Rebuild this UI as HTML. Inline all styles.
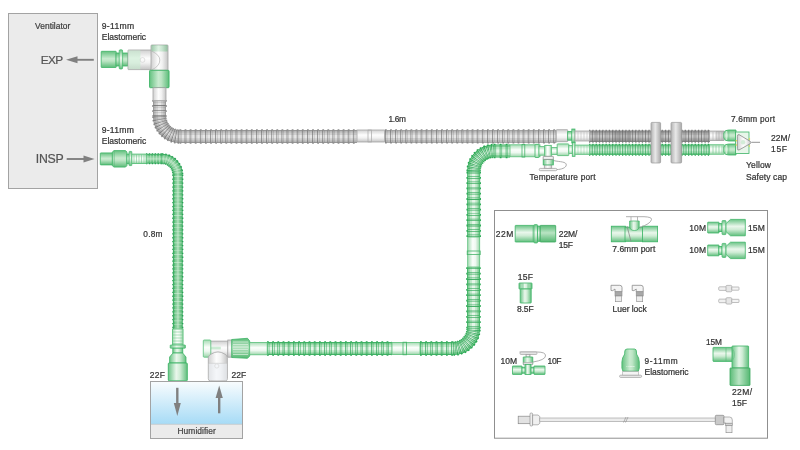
<!DOCTYPE html><html><head><meta charset="utf-8"><style>html,body{margin:0;padding:0;background:#fff;width:800px;height:450px;overflow:hidden}svg{display:block;will-change:transform}text{-webkit-font-smoothing:antialiased}</style></head><body>
<svg width="800" height="450" viewBox="0 0 800 450" font-family='"Liberation Sans", sans-serif'>
<defs>
<linearGradient id="gh_m" x1="0" y1="0" x2="0" y2="1"><stop offset="0" stop-color="#66c281"/><stop offset="0.45" stop-color="#c9ebd0"/><stop offset="0.6" stop-color="#bde5c5"/><stop offset="1" stop-color="#5cbc79"/></linearGradient>
<linearGradient id="gv_m" x1="0" y1="0" x2="1" y2="0"><stop offset="0" stop-color="#66c281"/><stop offset="0.45" stop-color="#c9ebd0"/><stop offset="0.6" stop-color="#bde5c5"/><stop offset="1" stop-color="#5cbc79"/></linearGradient>
<linearGradient id="gh_l" x1="0" y1="0" x2="0" y2="1"><stop offset="0" stop-color="#a6dcb4"/><stop offset="0.42" stop-color="#fbfefb"/><stop offset="0.65" stop-color="#eef8f0"/><stop offset="1" stop-color="#9bd6aa"/></linearGradient>
<linearGradient id="gv_l" x1="0" y1="0" x2="1" y2="0"><stop offset="0" stop-color="#a6dcb4"/><stop offset="0.42" stop-color="#fbfefb"/><stop offset="0.65" stop-color="#eef8f0"/><stop offset="1" stop-color="#9bd6aa"/></linearGradient>
<linearGradient id="gh_g" x1="0" y1="0" x2="0" y2="1"><stop offset="0" stop-color="#6cc487"/><stop offset="0.42" stop-color="#eaf7ec"/><stop offset="0.62" stop-color="#cfecd5"/><stop offset="1" stop-color="#62bf7e"/></linearGradient>
<linearGradient id="gv_g" x1="0" y1="0" x2="1" y2="0"><stop offset="0" stop-color="#6cc487"/><stop offset="0.42" stop-color="#eaf7ec"/><stop offset="0.62" stop-color="#cfecd5"/><stop offset="1" stop-color="#62bf7e"/></linearGradient>
<linearGradient id="gh_d" x1="0" y1="0" x2="0" y2="1"><stop offset="0" stop-color="#5dbd79"/><stop offset="0.45" stop-color="#b9e4c3"/><stop offset="1" stop-color="#55b872"/></linearGradient>
<linearGradient id="gv_d" x1="0" y1="0" x2="1" y2="0"><stop offset="0" stop-color="#5dbd79"/><stop offset="0.45" stop-color="#b9e4c3"/><stop offset="1" stop-color="#55b872"/></linearGradient>
<linearGradient id="gh_w" x1="0" y1="0" x2="0" y2="1"><stop offset="0" stop-color="#d0d0d0"/><stop offset="0.42" stop-color="#fdfdfd"/><stop offset="0.65" stop-color="#f2f2f2"/><stop offset="1" stop-color="#c4c4c4"/></linearGradient>
<linearGradient id="gv_w" x1="0" y1="0" x2="1" y2="0"><stop offset="0" stop-color="#d0d0d0"/><stop offset="0.42" stop-color="#fdfdfd"/><stop offset="0.65" stop-color="#f2f2f2"/><stop offset="1" stop-color="#c4c4c4"/></linearGradient>
<linearGradient id="gh_k" x1="0" y1="0" x2="0" y2="1"><stop offset="0" stop-color="#8c8c8c"/><stop offset="0.45" stop-color="#e2e2e2"/><stop offset="1" stop-color="#8c8c8c"/></linearGradient>
<linearGradient id="gv_k" x1="0" y1="0" x2="1" y2="0"><stop offset="0" stop-color="#8c8c8c"/><stop offset="0.45" stop-color="#e2e2e2"/><stop offset="1" stop-color="#8c8c8c"/></linearGradient>
<linearGradient id="hum" x1="0" y1="0" x2="0" y2="1"><stop offset="0" stop-color="#f8fcfe"/><stop offset="1" stop-color="#a6dbf6"/></linearGradient>
<linearGradient id="disc" x1="0" y1="0" x2="1" y2="0"><stop offset="0" stop-color="#b4b4b4"/><stop offset="0.45" stop-color="#e8e8e8"/><stop offset="1" stop-color="#aaaaaa"/></linearGradient>
</defs>
<rect x="8.5" y="13.5" width="89" height="175" rx="0" fill="#ebebeb" stroke="#a3a3a3" stroke-width="1" />
<text x="35.1" y="28.7" font-size="8.4" fill="#3d3d3d" stroke="#3d3d3d" stroke-width="0.22" textLength="35.2" lengthAdjust="spacing">Ventilator</text>
<text x="40.8" y="63.9" font-size="11.8" fill="#555" stroke="#555" stroke-width="0.22" textLength="22.4" lengthAdjust="spacing">EXP</text>
<path d="M93.8 59.8 H74" fill="none" stroke="#808080" stroke-width="1.9" />
<path d="M66 59.8 L77.5 56.3 L77.5 63.3 Z" fill="#808080" stroke="none" stroke-width="0.8" />
<text x="35.7" y="162.7" font-size="12.3" fill="#555" stroke="#555" stroke-width="0.22" textLength="28" lengthAdjust="spacing">INSP</text>
<path d="M66.7 159 H85" fill="none" stroke="#808080" stroke-width="1.9" />
<path d="M94.5 159 L83.5 155.4 L83.5 162.6 Z" fill="#808080" stroke="none" stroke-width="0.8" />
<text x="101.8" y="28.7" font-size="8.6" fill="#333" stroke="#333" stroke-width="0.22" textLength="32.3" lengthAdjust="spacing">9-11mm</text>
<text x="101.8" y="39.5" font-size="8.5" fill="#333" stroke="#333" stroke-width="0.22" textLength="44.3" lengthAdjust="spacing">Elastomeric</text>
<text x="101.7" y="132.7" font-size="8.6" fill="#333" stroke="#333" stroke-width="0.22" textLength="32.1" lengthAdjust="spacing">9-11mm</text>
<text x="101.7" y="144" font-size="8.5" fill="#333" stroke="#333" stroke-width="0.22" textLength="44.5" lengthAdjust="spacing">Elastomeric</text>
<path d="M159.5 100 V116.5" fill="none" stroke="#8c8c8c" stroke-width="14.5" stroke-dasharray="1.7999999999999998 3.3" stroke-dashoffset="0"/>
<path d="M159.5 100 V116.5" fill="none" stroke="#8c8c8c" stroke-width="13"/>
<path d="M159.5 100 V116.5" fill="none" stroke="#b9b9b9" stroke-width="11.7"/>
<path d="M159.5 100 V116.5" fill="none" stroke="#d0d0d0" stroke-width="7.8"/>
<path d="M159.5 100 V116.5" fill="none" stroke="#e6e6e6" stroke-width="3.25"/>
<path d="M159.5 100 V116.5" fill="none" stroke="#606060" stroke-opacity="0.7" stroke-width="12.2" stroke-dasharray="0.8 4.3" stroke-dashoffset="0"/>
<path d="M159.5 100 V116.5" fill="none" stroke="#606060" stroke-opacity="0.3" stroke-width="11.4" stroke-dasharray="0.7 4.3999999999999995" stroke-dashoffset="-1.7"/>
<path d="M179.5 136.5 H357" fill="none" stroke="#8c8c8c" stroke-width="14.5" stroke-dasharray="1.7999999999999998 3.3" stroke-dashoffset="0"/>
<path d="M179.5 136.5 H357" fill="none" stroke="#8c8c8c" stroke-width="13"/>
<path d="M179.5 136.5 H357" fill="none" stroke="#b9b9b9" stroke-width="11.7"/>
<path d="M179.5 136.5 H357" fill="none" stroke="#d0d0d0" stroke-width="7.8"/>
<path d="M179.5 136.5 H357" fill="none" stroke="#e6e6e6" stroke-width="3.25"/>
<path d="M179.5 136.5 H357" fill="none" stroke="#606060" stroke-opacity="0.7" stroke-width="12.2" stroke-dasharray="0.8 4.3" stroke-dashoffset="0"/>
<path d="M179.5 136.5 H357" fill="none" stroke="#606060" stroke-opacity="0.3" stroke-width="11.4" stroke-dasharray="0.7 4.3999999999999995" stroke-dashoffset="-1.7"/>
<path d="M159.5 116.5 A20 20 0 0 0 179.5 136.5" fill="none" stroke="#8c8c8c" stroke-width="14.5" stroke-dasharray="1.125 1.5750000000000002" stroke-dashoffset="0"/>
<path d="M159.5 116.5 A20 20 0 0 0 179.5 136.5" fill="none" stroke="#8c8c8c" stroke-width="13"/>
<path d="M159.5 116.5 A20 20 0 0 0 179.5 136.5" fill="none" stroke="#b9b9b9" stroke-width="11.7"/>
<path d="M159.5 116.5 A20 20 0 0 0 179.5 136.5" fill="none" stroke="#d0d0d0" stroke-width="7.8"/>
<path d="M159.5 116.5 A20 20 0 0 0 179.5 136.5" fill="none" stroke="#e6e6e6" stroke-width="3.25"/>
<path d="M159.5 116.5 A20 20 0 0 0 179.5 136.5" fill="none" stroke="#606060" stroke-opacity="0.7" stroke-width="12.2" stroke-dasharray="0.8 1.9000000000000001" stroke-dashoffset="0"/>
<path d="M159.5 116.5 A20 20 0 0 0 179.5 136.5" fill="none" stroke="#606060" stroke-opacity="0.3" stroke-width="11.4" stroke-dasharray="0.7 2.0" stroke-dashoffset="-1.7"/>
<path d="M385 136.3 H556.5" fill="none" stroke="#8c8c8c" stroke-width="14.3" stroke-dasharray="1.7999999999999998 3.3" stroke-dashoffset="0"/>
<path d="M385 136.3 H556.5" fill="none" stroke="#8c8c8c" stroke-width="12.8"/>
<path d="M385 136.3 H556.5" fill="none" stroke="#b9b9b9" stroke-width="11.5"/>
<path d="M385 136.3 H556.5" fill="none" stroke="#d0d0d0" stroke-width="7.68"/>
<path d="M385 136.3 H556.5" fill="none" stroke="#e6e6e6" stroke-width="3.2"/>
<path d="M385 136.3 H556.5" fill="none" stroke="#606060" stroke-opacity="0.7" stroke-width="12.0" stroke-dasharray="0.8 4.3" stroke-dashoffset="0"/>
<path d="M385 136.3 H556.5" fill="none" stroke="#606060" stroke-opacity="0.3" stroke-width="11.200000000000001" stroke-dasharray="0.7 4.3999999999999995" stroke-dashoffset="-1.7"/>
<rect x="357" y="130.0" width="27.5" height="12" rx="0" fill="url(#gh_w)" stroke="#a3a3a3" stroke-width="0.8"/>
<rect x="368" y="130" width="3.6" height="12" rx="0" fill="none" stroke="#a8a8a8" stroke-width="0.7" />
<path d="M589 136.2 H710" fill="none" stroke="#7a7a7a" stroke-width="12.9" stroke-dasharray="1.275 2.025" stroke-dashoffset="0"/>
<path d="M589 136.2 H710" fill="none" stroke="#7a7a7a" stroke-width="11.4"/>
<path d="M589 136.2 H710" fill="none" stroke="#a2a2a2" stroke-width="10.1"/>
<path d="M589 136.2 H710" fill="none" stroke="#b9b9b9" stroke-width="6.84"/>
<path d="M589 136.2 H710" fill="none" stroke="#d2d2d2" stroke-width="2.85"/>
<path d="M589 136.2 H710" fill="none" stroke="#555" stroke-opacity="0.7" stroke-width="10.6" stroke-dasharray="0.8 2.5" stroke-dashoffset="0"/>
<path d="M589 136.2 H710" fill="none" stroke="#555" stroke-opacity="0.3" stroke-width="9.8" stroke-dasharray="0.7 2.5999999999999996" stroke-dashoffset="-1.7"/>
<rect x="613" y="131" width="18" height="10.4" rx="0" fill="#707070" stroke="none" stroke-width="0" opacity="0.22"/>
<rect x="101.2" y="51.3" width="15.0" height="16.2" rx="0.5" fill="url(#gh_m)" stroke="#3db466" stroke-width="0.8"/>
<rect x="116" y="53.0" width="12" height="13" rx="0.3" fill="url(#gh_m)" stroke="#3db466" stroke-width="0.8"/>
<rect x="119.2" y="49.8" width="3.4" height="19.2" rx="1" fill="url(#gh_g)" stroke="#3db466" stroke-width="0.7" />
<rect x="128" y="50.0" width="23.5" height="19.6" rx="0.5" fill="url(#gh_w)" stroke="#a3a3a3" stroke-width="0.8"/>
<rect x="128.4" y="50.4" width="12" height="18.8" rx="0" fill="#c6ebcf" stroke="none" stroke-width="0" opacity="0.6"/>
<circle cx="142.5" cy="60" r="2.4" fill="none" stroke="#cfcfcf" stroke-width="0.6"/>
<rect x="151.0" y="45" width="17" height="25.299999999999997" rx="0.8" fill="url(#gv_w)" stroke="#a3a3a3" stroke-width="0.8"/>
<rect x="151.5" y="45" width="16" height="6.5" rx="0" fill="url(#gv_d)" stroke="none" stroke-width="0" opacity="0.45"/>
<path d="M151.5 51 Q160 55 159.8 60 Q160 66 151.5 70" fill="none" stroke="#b5b5b5" stroke-width="0.7" />
<rect x="149.55" y="70.3" width="19.5" height="17.400000000000006" rx="0.8" fill="url(#gv_m)" stroke="#3db466" stroke-width="0.9"/>
<rect x="153.0" y="87.7" width="13" height="13.0" rx="0" fill="url(#gv_w)" stroke="#a3a3a3" stroke-width="0.8"/>
<path d="M146 158.7 H161.8" fill="none" stroke="#2ba456" stroke-width="11.100000000000001" stroke-dasharray="1.3 1.5999999999999999"/>
<path d="M146 158.7 H161.8" fill="none" stroke="#2ba456" stroke-width="9.8"/>
<path d="M146 158.7 H161.8" fill="none" stroke="#5cbd7a" stroke-width="8.4"/>
<path d="M146 158.7 H161.8" fill="none" stroke="#84cd98" stroke-width="5.390000000000001"/>
<path d="M146 158.7 H161.8" fill="none" stroke="#a9dcb6" stroke-width="2.156"/>
<path d="M146 158.7 H161.8" fill="none" stroke="#d6efdb" stroke-opacity="0.75" stroke-width="7.800000000000001" stroke-dasharray="0.6 2.3" stroke-dashoffset="-1.6"/>
<path d="M177.8 174.7 V329" fill="none" stroke="#2ba456" stroke-width="11.100000000000001" stroke-dasharray="1.3 2.5999999999999996"/>
<path d="M177.8 174.7 V329" fill="none" stroke="#2ba456" stroke-width="9.8"/>
<path d="M177.8 174.7 V329" fill="none" stroke="#5cbd7a" stroke-width="8.4"/>
<path d="M177.8 174.7 V329" fill="none" stroke="#84cd98" stroke-width="5.390000000000001"/>
<path d="M177.8 174.7 V329" fill="none" stroke="#a9dcb6" stroke-width="2.156"/>
<path d="M177.8 174.7 V329" fill="none" stroke="#d6efdb" stroke-opacity="0.75" stroke-width="7.800000000000001" stroke-dasharray="0.6 3.3" stroke-dashoffset="-1.6"/>
<path d="M161.8 158.7 A16 16 0 0 1 177.8 174.7" fill="none" stroke="#2ba456" stroke-width="11.100000000000001" stroke-dasharray="1.3 1.3"/>
<path d="M161.8 158.7 A16 16 0 0 1 177.8 174.7" fill="none" stroke="#2ba456" stroke-width="9.8"/>
<path d="M161.8 158.7 A16 16 0 0 1 177.8 174.7" fill="none" stroke="#5cbd7a" stroke-width="8.4"/>
<path d="M161.8 158.7 A16 16 0 0 1 177.8 174.7" fill="none" stroke="#84cd98" stroke-width="5.390000000000001"/>
<path d="M161.8 158.7 A16 16 0 0 1 177.8 174.7" fill="none" stroke="#a9dcb6" stroke-width="2.156"/>
<path d="M161.8 158.7 A16 16 0 0 1 177.8 174.7" fill="none" stroke="#d6efdb" stroke-opacity="0.75" stroke-width="7.800000000000001" stroke-dasharray="0.6 2.0" stroke-dashoffset="-1.6"/>
<rect x="100.3" y="152.9" width="12.299999999999997" height="12" rx="0.5" fill="url(#gh_m)" stroke="#3db466" stroke-width="0.8"/>
<path d="M112.3 152 L114 150.6 H125.5 L126.9 152 V165.7 L125.5 167.1 H114 L112.3 165.7 Z" fill="url(#gh_m)" stroke="#3db466" stroke-width="0.8" />
<line x1="114.2" y1="151" x2="114.2" y2="166.8" stroke="#56bb77" stroke-width="0.6"/>
<rect x="126.9" y="154.0" width="2.4000000000000057" height="9.8" rx="0" fill="url(#gh_g)" stroke="#3db466" stroke-width="0.8"/>
<rect x="129.1" y="151.4" width="2.7" height="14.2" rx="0.5" fill="url(#gh_g)" stroke="#3db466" stroke-width="0.7" />
<rect x="131.8" y="154.10000000000002" width="14.399999999999977" height="9.4" rx="0" fill="url(#gh_l)" stroke="#5cc07c" stroke-width="0.9"/>
<line x1="134" y1="154.6" x2="134" y2="163" stroke="#5ec07f" stroke-width="0.7" opacity="0.7"/>
<line x1="136.5" y1="154.6" x2="136.5" y2="163" stroke="#5ec07f" stroke-width="0.7" opacity="0.7"/>
<line x1="139" y1="154.6" x2="139" y2="163" stroke="#5ec07f" stroke-width="0.7" opacity="0.7"/>
<line x1="141.5" y1="154.6" x2="141.5" y2="163" stroke="#5ec07f" stroke-width="0.7" opacity="0.7"/>
<line x1="144" y1="154.6" x2="144" y2="163" stroke="#5ec07f" stroke-width="0.7" opacity="0.7"/>
<rect x="172.55" y="329" width="10.5" height="16" rx="0" fill="url(#gv_l)" stroke="#5cc07c" stroke-width="0.9"/>
<line x1="173" y1="332" x2="182.6" y2="332" stroke="#5ec07f" stroke-width="0.7" opacity="0.7"/>
<line x1="173" y1="335" x2="182.6" y2="335" stroke="#5ec07f" stroke-width="0.7" opacity="0.7"/>
<line x1="173" y1="338" x2="182.6" y2="338" stroke="#5ec07f" stroke-width="0.7" opacity="0.7"/>
<line x1="173" y1="341" x2="182.6" y2="341" stroke="#5ec07f" stroke-width="0.7" opacity="0.7"/>
<line x1="173" y1="343.5" x2="182.6" y2="343.5" stroke="#5ec07f" stroke-width="0.7" opacity="0.7"/>
<rect x="170.2" y="345" width="15.2" height="3.2" rx="0.5" fill="url(#gv_g)" stroke="#3db466" stroke-width="0.7" />
<rect x="172.8" y="348.2" width="10" height="4.800000000000011" rx="0" fill="url(#gv_g)" stroke="#3db466" stroke-width="0.8"/>
<path d="M173 353 H182.6 L186 357 V363 H169.6 V357 Z" fill="url(#gv_g)" stroke="#3db466" stroke-width="0.8" />
<rect x="168.3" y="363" width="19" height="17.80000000000001" rx="0.8" fill="url(#gv_g)" stroke="#3db466" stroke-width="0.9"/>
<path d="M267 348.5 H392" fill="none" stroke="#2aa954" stroke-width="14.5" stroke-dasharray="1.7999999999999998 3.4000000000000004" stroke-dashoffset="0"/>
<path d="M267 348.5 H392" fill="none" stroke="#2aa954" stroke-width="13"/>
<path d="M267 348.5 H392" fill="none" stroke="#86d09a" stroke-width="11.7"/>
<path d="M267 348.5 H392" fill="none" stroke="#bfe7c8" stroke-width="7.8"/>
<path d="M267 348.5 H392" fill="none" stroke="#e6f5e9" stroke-width="3.25"/>
<path d="M267 348.5 H392" fill="none" stroke="#2aa454" stroke-opacity="0.85" stroke-width="12.2" stroke-dasharray="0.8 4.4" stroke-dashoffset="0"/>
<path d="M267 348.5 H392" fill="none" stroke="#2aa454" stroke-opacity="0.75" stroke-width="11.4" stroke-dasharray="0.7 4.5" stroke-dashoffset="-1.7"/>
<rect x="392" y="342.5" width="28" height="12" rx="0" fill="url(#gh_l)" stroke="#5cc07c" stroke-width="0.8"/>
<rect x="403" y="342.2" width="3.6" height="12.6" rx="0" fill="none" stroke="#46b46a" stroke-width="0.8" />
<path d="M420 348.5 H453.5" fill="none" stroke="#2aa954" stroke-width="14.5" stroke-dasharray="1.7999999999999998 3.4000000000000004" stroke-dashoffset="0"/>
<path d="M420 348.5 H453.5" fill="none" stroke="#2aa954" stroke-width="13"/>
<path d="M420 348.5 H453.5" fill="none" stroke="#86d09a" stroke-width="11.7"/>
<path d="M420 348.5 H453.5" fill="none" stroke="#bfe7c8" stroke-width="7.8"/>
<path d="M420 348.5 H453.5" fill="none" stroke="#e6f5e9" stroke-width="3.25"/>
<path d="M420 348.5 H453.5" fill="none" stroke="#2aa454" stroke-opacity="0.85" stroke-width="12.2" stroke-dasharray="0.8 4.4" stroke-dashoffset="0"/>
<path d="M420 348.5 H453.5" fill="none" stroke="#2aa454" stroke-opacity="0.75" stroke-width="11.4" stroke-dasharray="0.7 4.5" stroke-dashoffset="-1.7"/>
<path d="M473.5 328.5 V267" fill="none" stroke="#2aa954" stroke-width="14.5" stroke-dasharray="1.7999999999999998 3.6000000000000005" stroke-dashoffset="0"/>
<path d="M473.5 328.5 V267" fill="none" stroke="#2aa954" stroke-width="13"/>
<path d="M473.5 328.5 V267" fill="none" stroke="#86d09a" stroke-width="11.7"/>
<path d="M473.5 328.5 V267" fill="none" stroke="#bfe7c8" stroke-width="7.8"/>
<path d="M473.5 328.5 V267" fill="none" stroke="#e6f5e9" stroke-width="3.25"/>
<path d="M473.5 328.5 V267" fill="none" stroke="#2aa454" stroke-opacity="0.85" stroke-width="12.2" stroke-dasharray="0.8 4.6000000000000005" stroke-dashoffset="0"/>
<path d="M473.5 328.5 V267" fill="none" stroke="#2aa454" stroke-opacity="0.75" stroke-width="11.4" stroke-dasharray="0.7 4.7" stroke-dashoffset="-1.7"/>
<path d="M453.5 348.5 A20 20 0 0 0 473.5 328.5" fill="none" stroke="#2aa954" stroke-width="14.5" stroke-dasharray="1.2000000000000002 1.6999999999999997" stroke-dashoffset="0"/>
<path d="M453.5 348.5 A20 20 0 0 0 473.5 328.5" fill="none" stroke="#2aa954" stroke-width="13"/>
<path d="M453.5 348.5 A20 20 0 0 0 473.5 328.5" fill="none" stroke="#86d09a" stroke-width="11.7"/>
<path d="M453.5 348.5 A20 20 0 0 0 473.5 328.5" fill="none" stroke="#bfe7c8" stroke-width="7.8"/>
<path d="M453.5 348.5 A20 20 0 0 0 473.5 328.5" fill="none" stroke="#e6f5e9" stroke-width="3.25"/>
<path d="M453.5 348.5 A20 20 0 0 0 473.5 328.5" fill="none" stroke="#2aa454" stroke-opacity="0.85" stroke-width="12.2" stroke-dasharray="0.8 2.0999999999999996" stroke-dashoffset="0"/>
<path d="M453.5 348.5 A20 20 0 0 0 473.5 328.5" fill="none" stroke="#2aa454" stroke-opacity="0.75" stroke-width="11.4" stroke-dasharray="0.7 2.2" stroke-dashoffset="-1.7"/>
<rect x="467.7" y="237" width="12" height="30" rx="0" fill="url(#gv_l)" stroke="#5cc07c" stroke-width="0.8"/>
<rect x="467.2" y="251" width="13" height="3.6" rx="0" fill="none" stroke="#46b46a" stroke-width="0.8" />
<path d="M473.7 237 V171" fill="none" stroke="#2aa954" stroke-width="14.5" stroke-dasharray="1.7999999999999998 3.5" stroke-dashoffset="0"/>
<path d="M473.7 237 V171" fill="none" stroke="#2aa954" stroke-width="13"/>
<path d="M473.7 237 V171" fill="none" stroke="#86d09a" stroke-width="11.7"/>
<path d="M473.7 237 V171" fill="none" stroke="#bfe7c8" stroke-width="7.8"/>
<path d="M473.7 237 V171" fill="none" stroke="#e6f5e9" stroke-width="3.25"/>
<path d="M473.7 237 V171" fill="none" stroke="#2aa454" stroke-opacity="0.85" stroke-width="12.2" stroke-dasharray="0.8 4.5" stroke-dashoffset="0"/>
<path d="M473.7 237 V171" fill="none" stroke="#2aa454" stroke-opacity="0.75" stroke-width="11.4" stroke-dasharray="0.7 4.6" stroke-dashoffset="-1.7"/>
<path d="M493.7 151 H510" fill="none" stroke="#2aa954" stroke-width="14.5" stroke-dasharray="1.7999999999999998 4.2" stroke-dashoffset="0"/>
<path d="M493.7 151 H510" fill="none" stroke="#2aa954" stroke-width="13"/>
<path d="M493.7 151 H510" fill="none" stroke="#86d09a" stroke-width="11.7"/>
<path d="M493.7 151 H510" fill="none" stroke="#bfe7c8" stroke-width="7.8"/>
<path d="M493.7 151 H510" fill="none" stroke="#e6f5e9" stroke-width="3.25"/>
<path d="M493.7 151 H510" fill="none" stroke="#2aa454" stroke-opacity="0.85" stroke-width="12.2" stroke-dasharray="0.8 5.2" stroke-dashoffset="0"/>
<path d="M493.7 151 H510" fill="none" stroke="#2aa454" stroke-opacity="0.75" stroke-width="11.4" stroke-dasharray="0.7 5.3" stroke-dashoffset="-1.7"/>
<path d="M473.7 171 A20 20 0 0 1 493.7 151" fill="none" stroke="#2aa954" stroke-width="14.5" stroke-dasharray="1.2000000000000002 1.6999999999999997" stroke-dashoffset="0"/>
<path d="M473.7 171 A20 20 0 0 1 493.7 151" fill="none" stroke="#2aa954" stroke-width="13"/>
<path d="M473.7 171 A20 20 0 0 1 493.7 151" fill="none" stroke="#86d09a" stroke-width="11.7"/>
<path d="M473.7 171 A20 20 0 0 1 493.7 151" fill="none" stroke="#bfe7c8" stroke-width="7.8"/>
<path d="M473.7 171 A20 20 0 0 1 493.7 151" fill="none" stroke="#e6f5e9" stroke-width="3.25"/>
<path d="M473.7 171 A20 20 0 0 1 493.7 151" fill="none" stroke="#2aa454" stroke-opacity="0.85" stroke-width="12.2" stroke-dasharray="0.8 2.0999999999999996" stroke-dashoffset="0"/>
<path d="M473.7 171 A20 20 0 0 1 493.7 151" fill="none" stroke="#2aa454" stroke-opacity="0.75" stroke-width="11.4" stroke-dasharray="0.7 2.2" stroke-dashoffset="-1.7"/>
<rect x="510" y="144.8" width="30" height="12" rx="0" fill="url(#gh_l)" stroke="#5cc07c" stroke-width="0.8"/>
<rect x="522" y="144.5" width="2.8" height="12.6" rx="0" fill="none" stroke="#46b46a" stroke-width="0.8" />
<path d="M589 149.8 H710" fill="none" stroke="#2aa954" stroke-width="12.1" stroke-dasharray="1.275 2.025" stroke-dashoffset="0"/>
<path d="M589 149.8 H710" fill="none" stroke="#2aa954" stroke-width="10.6"/>
<path d="M589 149.8 H710" fill="none" stroke="#86d09a" stroke-width="9.299999999999999"/>
<path d="M589 149.8 H710" fill="none" stroke="#bfe7c8" stroke-width="6.359999999999999"/>
<path d="M589 149.8 H710" fill="none" stroke="#e6f5e9" stroke-width="2.65"/>
<path d="M589 149.8 H710" fill="none" stroke="#2aa454" stroke-opacity="0.85" stroke-width="9.799999999999999" stroke-dasharray="0.8 2.5" stroke-dashoffset="0"/>
<path d="M589 149.8 H710" fill="none" stroke="#2aa454" stroke-opacity="0.75" stroke-width="9.0" stroke-dasharray="0.7 2.5999999999999996" stroke-dashoffset="-1.7"/>
<rect x="210.4" y="341.09999999999997" width="17.599999999999994" height="15.6" rx="0" fill="url(#gh_w)" stroke="#a3a3a3" stroke-width="0.8"/>
<rect x="210.8" y="346.7" width="10" height="2.7" rx="0" fill="#bfe6c9" stroke="none" stroke-width="0" opacity="0.8"/>
<rect x="203.3" y="340.0" width="7.5" height="17.2" rx="0.8" fill="url(#gh_l)" stroke="#5cc07c" stroke-width="0.8"/>
<rect x="227.8" y="340.0" width="4.399999999999977" height="17.2" rx="0" fill="url(#gh_w)" stroke="#a3a3a3" stroke-width="0.8"/>
<path d="M208.3 378.6 V357.5 Q208.3 355.6 211 354.2 Q218 349.6 225 354.2 Q227.4 355.6 227.4 357.5 V378.6 Q227.4 380.8 225.4 380.8 H210.3 Q208.3 380.8 208.3 378.6 Z" fill="url(#gv_w)" stroke="#a8a8a8" stroke-width="0.8" />
<rect x="208.8" y="363.3" width="18.2" height="17" rx="1" fill="#eef2f6" stroke="none" stroke-width="0" opacity="0.6"/>
<line x1="208.6" y1="363.3" x2="227.1" y2="363.3" stroke="#c8c8c8" stroke-width="0.6"/>
<circle cx="216.8" cy="366" r="2.1" fill="none" stroke="#d8d8d8" stroke-width="0.7"/>
<path d="M231.7 339.5 L247.5 338.3 L249.7 341 V356 L247.5 358.3 L231.7 357.5 Z" fill="url(#gh_d)" stroke="#3db466" stroke-width="0.8" />
<line x1="233" y1="342" x2="248" y2="342" stroke="#e6f5e9" stroke-width="0.8" opacity="0.8"/>
<line x1="233" y1="344.5" x2="248" y2="344.5" stroke="#e6f5e9" stroke-width="0.8" opacity="0.8"/>
<line x1="233" y1="347" x2="248" y2="347" stroke="#e6f5e9" stroke-width="0.8" opacity="0.8"/>
<line x1="233" y1="349.5" x2="248" y2="349.5" stroke="#e6f5e9" stroke-width="0.8" opacity="0.8"/>
<line x1="233" y1="352" x2="248" y2="352" stroke="#e6f5e9" stroke-width="0.8" opacity="0.8"/>
<line x1="233" y1="354.5" x2="248" y2="354.5" stroke="#e6f5e9" stroke-width="0.8" opacity="0.8"/>
<rect x="249.7" y="342.40000000000003" width="17.5" height="12.4" rx="0" fill="url(#gh_l)" stroke="#5cc07c" stroke-width="0.8"/>
<rect x="556.3" y="129.7" width="11.400000000000091" height="12" rx="0.5" fill="url(#gh_w)" stroke="#a3a3a3" stroke-width="0.8"/>
<rect x="567.7" y="131.6" width="4.2999999999999545" height="8.6" rx="0" fill="url(#gh_g)" stroke="#3db466" stroke-width="0.8"/>
<rect x="571.8" y="129" width="3.2" height="14" rx="0" fill="url(#gh_g)" stroke="#3db466" stroke-width="0.7" />
<rect x="575" y="131.0" width="14.700000000000045" height="10" rx="0" fill="url(#gh_w)" stroke="#a3a3a3" stroke-width="0.8"/>
<line x1="578" y1="131.5" x2="578" y2="140.5" stroke="#bdbdbd" stroke-width="0.6"/>
<line x1="581" y1="131.5" x2="581" y2="140.5" stroke="#bdbdbd" stroke-width="0.6"/>
<line x1="584" y1="131.5" x2="584" y2="140.5" stroke="#bdbdbd" stroke-width="0.6"/>
<line x1="587" y1="131.5" x2="587" y2="140.5" stroke="#bdbdbd" stroke-width="0.6"/>
<rect x="535" y="144.3" width="4" height="13.2" rx="0.5" fill="url(#gh_l)" stroke="#3db466" stroke-width="0.8" />
<rect x="539" y="146.6" width="5.7000000000000455" height="8.6" rx="0" fill="url(#gh_l)" stroke="#5cc07c" stroke-width="0.8"/>
<rect x="551.3" y="147.4" width="5.900000000000091" height="7" rx="0" fill="url(#gh_l)" stroke="#5cc07c" stroke-width="0.8"/>
<rect x="557.2" y="143.9" width="11.599999999999909" height="11.7" rx="0.5" fill="url(#gh_l)" stroke="#5cc07c" stroke-width="0.9"/>
<rect x="568.8" y="145.5" width="3.5" height="8" rx="0" fill="url(#gh_l)" stroke="#5cc07c" stroke-width="0.8"/>
<rect x="572.3" y="142.3" width="2.7" height="14" rx="0" fill="url(#gh_l)" stroke="#3db466" stroke-width="0.8" />
<rect x="575" y="145.04999999999998" width="14.700000000000045" height="9.3" rx="0" fill="url(#gh_l)" stroke="#5cc07c" stroke-width="0.8"/>
<line x1="578" y1="145.5" x2="578" y2="154" stroke="#5ec07f" stroke-width="0.6" opacity="0.6"/>
<line x1="581" y1="145.5" x2="581" y2="154" stroke="#5ec07f" stroke-width="0.6" opacity="0.6"/>
<line x1="584" y1="145.5" x2="584" y2="154" stroke="#5ec07f" stroke-width="0.6" opacity="0.6"/>
<line x1="587" y1="145.5" x2="587" y2="154" stroke="#5ec07f" stroke-width="0.6" opacity="0.6"/>
<rect x="544.7" y="145.4" width="6.6" height="11.599999999999994" rx="0" fill="url(#gv_l)" stroke="#5cc07c" stroke-width="0.9"/>
<path d="M553.7 160.6 C 560 162, 566.5 161.5, 566.3 165 C 566 168, 561 169.5, 556.8 169.5" fill="none" stroke="#9a9a9a" stroke-width="0.8" />
<rect x="544.3" y="164.9" width="7.4" height="3.5" rx="0" fill="url(#gv_w)" stroke="#a3a3a3" stroke-width="0.8"/>
<rect x="543.2" y="159.4" width="10.1" height="5.5" rx="0" fill="url(#gv_g)" stroke="#3db466" stroke-width="0.8"/>
<rect x="543.2" y="156.3" width="10.1" height="3.1" rx="0.5" fill="#f2f2f2" stroke="#8a8a8a" stroke-width="0.8" />
<rect x="539.3" y="168.4" width="17.5" height="2.3" rx="1" fill="#f4f4f4" stroke="#9a9a9a" stroke-width="0.7" />
<text x="529.5" y="179.7" font-size="8.3" fill="#333" stroke="#333" stroke-width="0.22" textLength="66" lengthAdjust="spacing">Temperature port</text>
<rect x="651" y="122.4" width="9.6" height="40.6" rx="1" fill="url(#disc)" stroke="#999" stroke-width="0.7" />
<rect x="671" y="122.4" width="10.6" height="40.6" rx="1" fill="url(#disc)" stroke="#999" stroke-width="0.7" />
<rect x="709.5" y="131.05" width="14.5" height="9.5" rx="0" fill="url(#gh_w)" stroke="#a3a3a3" stroke-width="0.8"/>
<rect x="709.5" y="144.75" width="14.5" height="9.5" rx="0" fill="url(#gh_l)" stroke="#5cc07c" stroke-width="0.8"/>
<line x1="713" y1="131.8" x2="713" y2="140" stroke="#b0b0b0" stroke-width="0.6"/>
<line x1="713" y1="145.5" x2="713" y2="153.5" stroke="#6cc488" stroke-width="0.6"/>
<line x1="716" y1="131.8" x2="716" y2="140" stroke="#b0b0b0" stroke-width="0.6"/>
<line x1="716" y1="145.5" x2="716" y2="153.5" stroke="#6cc488" stroke-width="0.6"/>
<line x1="719" y1="131.8" x2="719" y2="140" stroke="#b0b0b0" stroke-width="0.6"/>
<line x1="719" y1="145.5" x2="719" y2="153.5" stroke="#6cc488" stroke-width="0.6"/>
<line x1="722" y1="131.8" x2="722" y2="140" stroke="#b0b0b0" stroke-width="0.6"/>
<line x1="722" y1="145.5" x2="722" y2="153.5" stroke="#6cc488" stroke-width="0.6"/>
<rect x="716" y="131" width="8" height="9.6" rx="0" fill="#8a8a8a" stroke="none" stroke-width="0" opacity="0.25"/>
<path d="M723.8 133 Q724.6 130 728.5 130 H736 V141 H728.5 Q724.6 141 723.8 138 Z" fill="url(#gh_m)" stroke="#3db466" stroke-width="0.8" />
<line x1="726.3" y1="131" x2="726.3" y2="140" stroke="#eaf7ec" stroke-width="1" opacity="0.8"/><line x1="728.8" y1="130.5" x2="728.8" y2="140.5" stroke="#4fb872" stroke-width="0.5"/>
<path d="M723.8 147 Q724.6 144 728.5 144 H736 V155 H728.5 Q724.6 155 723.8 152 Z" fill="url(#gh_m)" stroke="#3db466" stroke-width="0.8" />
<line x1="726.3" y1="145" x2="726.3" y2="154" stroke="#eaf7ec" stroke-width="1" opacity="0.8"/><line x1="728.8" y1="144.5" x2="728.8" y2="154.5" stroke="#4fb872" stroke-width="0.5"/>
<rect x="735.6" y="132" width="13.4" height="21.5" rx="0" fill="#e8f6ea" stroke="#3db466" stroke-width="0.8" />
<path d="M739 134.6 Q737.4 134.2 737.4 136.5 V148.3 Q737.4 150.6 739 150 L750.3 143.6 Q751.8 142.5 750.3 141.4 Z" fill="url(#gv_w)" stroke="#8a8a8a" stroke-width="0.8" />
<circle cx="743" cy="142.2" r="2.3" fill="#d3ecd8"/>
<path d="M751.5 142.3 H760" fill="none" stroke="#888" stroke-width="0.9" />
<circle cx="736.3" cy="140.8" r="0.8" fill="#e8d84a"/><circle cx="736.3" cy="145" r="0.8" fill="#e8d84a"/><circle cx="749.4" cy="139" r="0.8" fill="#e8d84a"/><circle cx="749.4" cy="146" r="0.8" fill="#e8d84a"/>
<text x="388.5" y="122" font-size="8.3" fill="#333" stroke="#333" stroke-width="0.22" textLength="17.5" lengthAdjust="spacing">1.6m</text>
<text x="143.3" y="237.3" font-size="8.3" fill="#333" stroke="#333" stroke-width="0.22" textLength="19.2" lengthAdjust="spacing">0.8m</text>
<text x="731" y="122.4" font-size="8.3" fill="#333" stroke="#333" stroke-width="0.22" textLength="44" lengthAdjust="spacing">7.6mm port</text>
<text x="771" y="141.0" font-size="8.5" fill="#333" stroke="#333" stroke-width="0.22" textLength="19" lengthAdjust="spacing">22M/</text>
<text x="771" y="151.6" font-size="8.5" fill="#333" stroke="#333" stroke-width="0.22" textLength="16" lengthAdjust="spacing">15F</text>
<text x="746" y="168.4" font-size="8.5" fill="#333" stroke="#333" stroke-width="0.22" textLength="25" lengthAdjust="spacing">Yellow</text>
<text x="746" y="179.6" font-size="8.5" fill="#333" stroke="#333" stroke-width="0.22" textLength="41" lengthAdjust="spacing">Safety cap</text>
<rect x="150.5" y="381.5" width="92" height="57" rx="0" fill="#ebebeb" stroke="#a3a3a3" stroke-width="1" />
<rect x="151" y="382" width="91" height="42.3" rx="0" fill="url(#hum)" stroke="none" stroke-width="0.8" />
<line x1="151" y1="424.3" x2="242" y2="424.3" stroke="#c8c8c8" stroke-width="0.8"/>
<text x="177.5" y="434.2" font-size="8.4" fill="#444" stroke="#444" stroke-width="0.22" textLength="38.3" lengthAdjust="spacing">Humidifier</text>
<path d="M177.3 387.8 V404" fill="none" stroke="#808080" stroke-width="2.4" />
<path d="M173.8 403 L177.3 416 L180.8 403 Z" fill="#808080" stroke="none" stroke-width="0.8" />
<path d="M219.2 413.3 V397" fill="none" stroke="#808080" stroke-width="2.4" />
<path d="M215.6 398 L219.2 385.5 L222.8 398 Z" fill="#808080" stroke="none" stroke-width="0.8" />
<text x="149.7" y="378.3" font-size="8.5" fill="#333" stroke="#333" stroke-width="0.22" textLength="15.3" lengthAdjust="spacing">22F</text>
<text x="231.5" y="377.8" font-size="8.5" fill="#333" stroke="#333" stroke-width="0.22" textLength="14.8" lengthAdjust="spacing">22F</text>
<rect x="494.5" y="210.5" width="273" height="227.7" rx="0" fill="none" stroke="#8f8f8f" stroke-width="1" />
<rect x="515.2" y="225.39999999999998" width="19.09999999999991" height="16.6" rx="0.5" fill="url(#gh_g)" stroke="#3db466" stroke-width="0.8"/>
<rect x="534" y="224.6" width="3.6" height="18.4" rx="0.8" fill="url(#gh_g)" stroke="#3db466" stroke-width="0.7" />
<rect x="537.6" y="226.1" width="2.6000000000000227" height="15.2" rx="0" fill="url(#gh_g)" stroke="#3db466" stroke-width="0.8"/>
<rect x="540.2" y="225.39999999999998" width="15.5" height="16.6" rx="0.5" fill="url(#gh_d)" stroke="#3aa85e" stroke-width="0.8"/>
<line x1="533" y1="226" x2="533" y2="241.5" stroke="#56bb77" stroke-width="0.6"/>
<text x="495.8" y="237.2" font-size="8.5" fill="#333" stroke="#333" stroke-width="0.22" textLength="17.6" lengthAdjust="spacing">22M</text>
<text x="558.8" y="237.2" font-size="8.5" fill="#333" stroke="#333" stroke-width="0.22" textLength="18.5" lengthAdjust="spacing">22M/</text>
<text x="558.8" y="248" font-size="8.5" fill="#333" stroke="#333" stroke-width="0.22" textLength="14.2" lengthAdjust="spacing">15F</text>
<rect x="611.3" y="226.2" width="14.200000000000045" height="15.6" rx="0" fill="url(#gh_g)" stroke="#3db466" stroke-width="0.8"/>
<rect x="625" y="227.1" width="17.700000000000045" height="14.2" rx="0" fill="url(#gh_g)" stroke="#3db466" stroke-width="0.8"/>
<rect x="642.4" y="226.2" width="15.200000000000045" height="15.6" rx="0" fill="url(#gh_g)" stroke="#3db466" stroke-width="0.8"/>
<path d="M627 226 L631 241.5" fill="none" stroke="#8a8a8a" stroke-width="0.8" />
<path d="M629.6 221 H639.2 V226 Q639.2 230.5 634.4 230.5 Q629.6 230.5 629.6 226 Z" fill="url(#gv_g)" stroke="#3db466" stroke-width="0.7" />
<path d="M631 216.8 V221 M637.5 216.8 V221" fill="none" stroke="#9a9a9a" stroke-width="0.7" />
<path d="M626 216.7 H644 Q652 217 651.5 219.5 Q650.5 224 639.5 227.5" fill="none" stroke="#9a9a9a" stroke-width="0.8" />
<text x="612.3" y="252.4" font-size="8.5" fill="#333" stroke="#333" stroke-width="0.22" textLength="43" lengthAdjust="spacing">7.6mm port</text>
<rect x="707.7" y="222.2" width="11.299999999999955" height="10.8" rx="0.3" fill="url(#gh_g)" stroke="#3db466" stroke-width="0.8"/>
<rect x="718.8" y="223.6" width="3.2000000000000455" height="8" rx="0" fill="url(#gh_g)" stroke="#3db466" stroke-width="0.8"/>
<rect x="722" y="220.6" width="4" height="14" rx="0.8" fill="url(#gh_g)" stroke="#3db466" stroke-width="0.7" />
<path d="M726 223.6 L730.5 219.4 H745.3 V235.79999999999998 H730.5 L726 231.6 Z" fill="url(#gh_g)" stroke="#3db466" stroke-width="0.8" />
<text x="689.3" y="231.1" font-size="8.5" fill="#333" stroke="#333" stroke-width="0.22" textLength="16.7" lengthAdjust="spacing">10M</text>
<text x="748" y="231.1" font-size="8.5" fill="#333" stroke="#333" stroke-width="0.22" textLength="16.8" lengthAdjust="spacing">15M</text>
<rect x="707.7" y="245.0" width="11.299999999999955" height="10.8" rx="0.3" fill="url(#gh_g)" stroke="#3db466" stroke-width="0.8"/>
<rect x="718.8" y="246.4" width="3.2000000000000455" height="8" rx="0" fill="url(#gh_g)" stroke="#3db466" stroke-width="0.8"/>
<rect x="722" y="243.4" width="4" height="14" rx="0.8" fill="url(#gh_g)" stroke="#3db466" stroke-width="0.7" />
<path d="M726 246.4 L730.5 242.20000000000002 H745.3 V258.6 H730.5 L726 254.4 Z" fill="url(#gh_g)" stroke="#3db466" stroke-width="0.8" />
<text x="689.3" y="253.0" font-size="8.5" fill="#333" stroke="#333" stroke-width="0.22" textLength="16.7" lengthAdjust="spacing">10M</text>
<text x="748" y="253.0" font-size="8.5" fill="#333" stroke="#333" stroke-width="0.22" textLength="16.8" lengthAdjust="spacing">15M</text>
<rect x="519" y="283" width="13" height="6" rx="0.5" fill="url(#gv_g)" stroke="#3db466" stroke-width="0.8" />
<line x1="523" y1="283.5" x2="523" y2="288.5" stroke="#56bb77" stroke-width="0.5"/><line x1="528" y1="283.5" x2="528" y2="288.5" stroke="#56bb77" stroke-width="0.5"/>
<rect x="520.2" y="289" width="11" height="14" rx="0.5" fill="url(#gv_g)" stroke="#3db466" stroke-width="0.8"/>
<text x="517.7" y="279.8" font-size="8.5" fill="#333" stroke="#333" stroke-width="0.22" textLength="15.3" lengthAdjust="spacing">15F</text>
<text x="516.9" y="312" font-size="8.5" fill="#333" stroke="#333" stroke-width="0.22" textLength="16.7" lengthAdjust="spacing">8.5F</text>
<path d="M611 285.3 H619.8 Q622 285.3 622 287.5 V291.8 H615 V289 Q612.5 291.5 611 290.5 Z" fill="#f4f4f4" stroke="#8a8a8a" stroke-width="0.8" />
<rect x="615" y="291.8" width="7" height="4.2" rx="0" fill="#a8a8a8" stroke="#8a8a8a" stroke-width="0.6" />
<rect x="615.5" y="296" width="6" height="5.7" rx="0" fill="#ededed" stroke="#8a8a8a" stroke-width="0.6" />
<path d="M632.2 285.3 H641.0 Q643.2 285.3 643.2 287.5 V291.8 H636.2 V289 Q633.7 291.5 632.2 290.5 Z" fill="#f4f4f4" stroke="#8a8a8a" stroke-width="0.8" />
<rect x="636.2" y="291.8" width="7" height="4.2" rx="0" fill="#a8a8a8" stroke="#8a8a8a" stroke-width="0.6" />
<rect x="636.7" y="296" width="6" height="5.7" rx="0" fill="#ededed" stroke="#8a8a8a" stroke-width="0.6" />
<text x="612.6" y="311.8" font-size="8.5" fill="#333" stroke="#333" stroke-width="0.22" textLength="34.1" lengthAdjust="spacing">Luer lock</text>
<rect x="718.7" y="286.8" width="8" height="3.6" rx="1" fill="#f0f0f0" stroke="#999" stroke-width="0.6" />
<rect x="726" y="285.40000000000003" width="5.8" height="6.4" rx="1" fill="#e6e6e6" stroke="#999" stroke-width="0.6" />
<rect x="731.8" y="287.0" width="7.2" height="3.2" rx="0.5" fill="#f4f4f4" stroke="#999" stroke-width="0.6" />
<rect x="718.7" y="299.09999999999997" width="8" height="3.6" rx="1" fill="#f0f0f0" stroke="#999" stroke-width="0.6" />
<rect x="726" y="297.7" width="5.8" height="6.4" rx="1" fill="#e6e6e6" stroke="#999" stroke-width="0.6" />
<rect x="731.8" y="299.29999999999995" width="7.2" height="3.2" rx="0.5" fill="#f4f4f4" stroke="#999" stroke-width="0.6" />
<path d="M519.5 352 H537 Q546 352 545.5 356 Q545 360 533 362" fill="none" stroke="#9a9a9a" stroke-width="0.8" />
<rect x="520" y="352" width="17" height="2.5" rx="1" fill="#e4e4e4" stroke="#9a9a9a" stroke-width="0.6" />
<rect x="526.0" y="354.5" width="4" height="2.5" rx="0" fill="url(#gv_w)" stroke="#a3a3a3" stroke-width="0.8"/>
<rect x="523.25" y="357" width="9.5" height="7.5" rx="0.3" fill="url(#gv_g)" stroke="#3db466" stroke-width="0.8"/>
<rect x="523.3" y="362.5" width="9.4" height="2.4" rx="0" fill="#e0e0e0" stroke="#999" stroke-width="0.5" />
<rect x="512.5" y="366.0" width="9.5" height="8.4" rx="0.3" fill="url(#gh_g)" stroke="#3db466" stroke-width="0.8"/>
<rect x="522" y="367.2" width="12" height="6" rx="0" fill="url(#gh_g)" stroke="#3db466" stroke-width="0.8"/>
<rect x="525.0" y="364.5" width="6" height="10.0" rx="0" fill="url(#gv_g)" stroke="#3db466" stroke-width="0.8"/>
<rect x="534" y="366.0" width="11" height="8.4" rx="0.3" fill="url(#gh_g)" stroke="#3db466" stroke-width="0.8"/>
<text x="500.5" y="364.2" font-size="8.5" fill="#333" stroke="#333" stroke-width="0.22" textLength="16.5" lengthAdjust="spacing">10M</text>
<text x="547.5" y="364.2" font-size="8.5" fill="#333" stroke="#333" stroke-width="0.22" textLength="14" lengthAdjust="spacing">10F</text>
<path d="M627 349 H634.5 Q636.5 349 636.5 352 V354 Q639.3 358 639.3 362 V368 L638.3 371.2 H622.9 L621.9 368 V362 Q621.9 358 624.7 354 V352 Q624.7 349 627 349 Z" fill="url(#gv_m)" stroke="#3db466" stroke-width="0.8" />
<text x="630.5" y="366.6" font-size="2.4" fill="#fff" text-anchor="middle">9-11mm</text>
<rect x="622.5" y="371.7" width="16.2" height="3.6" rx="0" fill="#f4f4f4" stroke="#aaa" stroke-width="0.6" />
<rect x="619.6" y="375.2" width="22" height="2.2" rx="1" fill="#ececec" stroke="#999" stroke-width="0.7" />
<text x="644.6" y="364.3" font-size="8.3" fill="#333" stroke="#333" stroke-width="0.22" textLength="33" lengthAdjust="spacing">9-11mm</text>
<text x="644.6" y="374.8" font-size="8.5" fill="#333" stroke="#333" stroke-width="0.22" textLength="44" lengthAdjust="spacing">Elastomeric</text>
<rect x="713" y="347.4" width="21" height="14" rx="0.5" fill="url(#gh_g)" stroke="#3db466" stroke-width="0.8"/>
<line x1="726" y1="347.6" x2="726" y2="361.2" stroke="#56bb77" stroke-width="0.6"/>
<rect x="732.0" y="346" width="16.6" height="22" rx="0.6" fill="url(#gv_g)" stroke="#3db466" stroke-width="0.8"/>
<path d="M732 348 Q737 354.5 732 361" fill="none" stroke="#66c085" stroke-width="0.6" />
<rect x="730.0" y="368" width="20" height="17.399999999999977" rx="0.5" fill="url(#gv_d)" stroke="#3aa85e" stroke-width="0.8"/>
<text x="706" y="345.2" font-size="8.3" fill="#333" stroke="#333" stroke-width="0.22" textLength="16" lengthAdjust="spacing">15M</text>
<text x="732" y="395.2" font-size="8.5" fill="#333" stroke="#333" stroke-width="0.22" textLength="20" lengthAdjust="spacing">22M/</text>
<text x="732" y="406.2" font-size="8.5" fill="#333" stroke="#333" stroke-width="0.22" textLength="15" lengthAdjust="spacing">15F</text>
<rect x="518.2" y="416.2" width="12.4" height="7.5" rx="0" fill="#e2e2e2" stroke="#888" stroke-width="0.7" />
<rect x="530" y="413" width="2.6" height="13" rx="1" fill="#eeeeee" stroke="#888" stroke-width="0.6" />
<path d="M532.6 415 H538 L539.8 416.5 V423.3 L538 424.8 H532.6 Z" fill="#f0f0f0" stroke="#888" stroke-width="0.6" />
<rect x="539.8" y="418" width="175.5" height="3.6" fill="#ececec" stroke="#9a9a9a" stroke-width="0.6"/>
<path d="M623.5 422.5 L626 417 M625.5 422.5 L628 417" fill="none" stroke="#888" stroke-width="0.6" />
<rect x="715.3" y="415.3" width="8.7" height="9.4" rx="1" fill="#c9c9c9" stroke="#888" stroke-width="0.7" />
<path d="M724 417 H729.5 Q732.3 417 732.3 420 V423.3 H726 V423 H724 Z" fill="#f2f2f2" stroke="#888" stroke-width="0.6" />
<rect x="725.3" y="423.3" width="7.4" height="2.2" rx="0" fill="#d4d4d4" stroke="#888" stroke-width="0.5" />
<rect x="726" y="425.5" width="6" height="7.2" rx="0" fill="#eeeeee" stroke="#888" stroke-width="0.6" />
</svg></body></html>
